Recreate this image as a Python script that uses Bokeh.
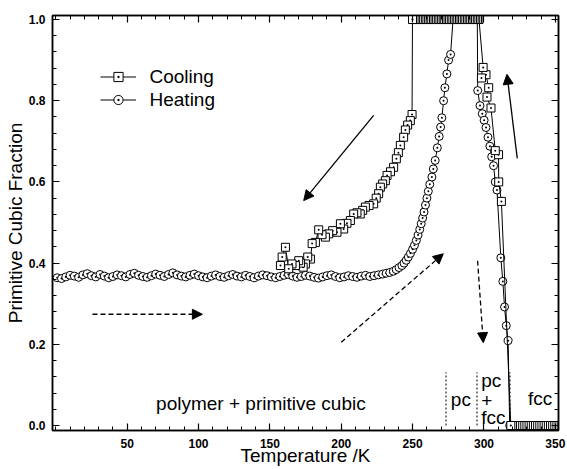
from bokeh.plotting import figure
from bokeh.models import (Range1d, LinearAxis, FixedTicker, PrintfTickFormatter, CustomJSTickFormatter,
                          Legend, LegendItem, Arrow, NormalHead, ColumnDataSource)
from bokeh.embed import file_html
from bokeh.resources import INLINE
from bokeh.core.properties import value

FONT = "Liberation Sans"

# ---------------- data ----------------
# Heating (circles)
heat_T = [1, 4, 7, 10, 13, 16, 19, 22, 25, 28,
          31, 34, 37, 40, 43, 46, 49, 52, 55, 58,
          61, 64, 67, 70, 73, 76, 79, 82, 85, 88,
          91, 94, 97, 100, 103, 106, 109, 112, 115, 118,
          121, 124, 127, 130, 133, 136, 139, 142, 145, 148,
          151, 154, 157, 160, 163, 166, 169, 172, 175, 178,
          181, 184, 187, 190, 193, 196, 199, 202, 205, 208,
          211, 214, 217, 220, 223, 226, 229,
          231.5, 234, 236.5, 238.5, 240.5, 242.5, 244, 245.5, 247, 248.5,
          250, 251.3, 252.6, 253.8, 255, 256, 257, 258, 259, 260,
          261, 262, 263.5, 264.5, 265.8, 267.3, 268.6, 269.6, 270.5, 271.7,
          272.6, 274.0, 275.2, 276.6,
          278.3, 280.3, 282.3, 284.3, 286.2, 288.0, 289.8, 291.5, 293.4, 295.3,
          295.6, 297.2, 298.8, 300.1, 301.4, 302.8, 304.1, 305.4, 306.7, 307.9,
          309.1, 311.8, 313.2, 314.4, 315.6, 316.9,
          318.0, 319.4, 320.8, 322.2, 323.6, 325.0, 326.4, 327.8, 329.2, 330.6,
          332.0, 333.4, 334.8, 336.2, 337.6, 339.0, 340.4, 341.8, 343.2, 344.6,
          346.0, 347.4, 348.8, 350.0]
heat_F = [0.364, 0.362, 0.366, 0.370, 0.368, 0.365, 0.371, 0.374, 0.369, 0.366,
          0.372, 0.368, 0.364, 0.367, 0.371, 0.369, 0.366, 0.372, 0.375, 0.370,
          0.367, 0.365, 0.369, 0.373, 0.370, 0.367, 0.372, 0.376, 0.371, 0.368,
          0.366, 0.370, 0.373, 0.369, 0.366, 0.364, 0.368, 0.371, 0.367, 0.365,
          0.369, 0.372, 0.368, 0.366, 0.370, 0.367, 0.364, 0.368, 0.371, 0.369,
          0.366, 0.364, 0.367, 0.370, 0.372, 0.368, 0.365, 0.367, 0.370, 0.368,
          0.365, 0.363, 0.366, 0.369, 0.371, 0.367, 0.364, 0.366, 0.369, 0.367,
          0.365, 0.368, 0.370, 0.367, 0.369, 0.371, 0.373,
          0.375, 0.377, 0.380, 0.384, 0.389, 0.394, 0.400, 0.407, 0.415, 0.424,
          0.434, 0.444, 0.456, 0.469, 0.483, 0.497, 0.511, 0.526, 0.543, 0.560,
          0.577, 0.594, 0.612, 0.632, 0.653, 0.684, 0.712, 0.735, 0.758, 0.800,
          0.832, 0.866, 0.900, 0.914,
          1.0, 1.0, 1.0, 1.0, 1.0, 1.0, 1.0, 1.0, 1.0, 1.0,
          0.825, 0.788, 0.768, 0.752, 0.734, 0.710, 0.688, 0.662, 0.640, 0.600,
          0.580, 0.413, 0.355, 0.292, 0.246, 0.209,
          0.0, 0.0, 0.0, 0.0, 0.0, 0.0, 0.0, 0.0, 0.0, 0.0,
          0.0, 0.0, 0.0, 0.0, 0.0, 0.0, 0.0, 0.0, 0.0, 0.0,
          0.0, 0.0, 0.0, 0.0]

# Cooling (squares)
cool_T = [350.0, 348.5, 347.0, 345.5, 344.0, 342.5, 341.0, 339.5, 338.0, 336.5,
          335.0, 333.5, 332.0, 330.5, 329.0, 327.5, 326.0, 324.5, 323.0, 321.5,
          320.0, 318.8,
          312.2, 310.3, 310.2, 307.9, 304.9, 302.1, 303.3, 301.4, 298.2, 299.4,
          296.5, 295.4, 294.2, 293.1, 292.0, 290.8, 289.7, 288.5, 287.4, 286.3,
          285.1, 284.0, 282.9, 281.7, 280.6, 279.4, 278.3, 277.2, 276.0, 274.9,
          273.8, 272.6, 271.5, 270.3, 269.2, 268.1, 266.9, 265.8, 264.7, 263.5,
          262.4, 261.2, 260.1, 259.0, 257.8, 256.7, 255.6, 254.4, 253.3, 252.1,
          251.0, 249.9,
          249.6, 248.4, 246.5, 244.9, 243.7, 241.4, 240.0, 238.6, 236.7, 234.5,
          232.1, 230.9, 229.0, 227.4, 226.2, 224.5, 222.7, 219.5, 216.9, 215.0,
          213.3, 211.0, 208.7, 206.4, 204.0, 201.7, 199.4, 197.0, 194.0, 191.2,
          188.9, 186.5, 184.2, 181.9, 179.6, 178.4, 176.5, 174.9, 173.3, 171.5,
          170.2, 167.9, 165.5, 163.2, 160.9, 158.6, 157.4]
cool_F = [0.0, 0.0, 0.0, 0.0, 0.0, 0.0, 0.0, 0.0, 0.0, 0.0,
          0.0, 0.0, 0.0, 0.0, 0.0, 0.0, 0.0, 0.0, 0.0, 0.0,
          0.0, 0.0,
          0.552, 0.600, 0.667, 0.677, 0.782, 0.809, 0.832, 0.864, 0.856, 0.882,
          1.0, 1.0, 1.0, 1.0, 1.0, 1.0, 1.0, 1.0, 1.0, 1.0,
          1.0, 1.0, 1.0, 1.0, 1.0, 1.0, 1.0, 1.0, 1.0, 1.0,
          1.0, 1.0, 1.0, 1.0, 1.0, 1.0, 1.0, 1.0, 1.0, 1.0,
          1.0, 1.0, 1.0, 1.0, 1.0, 1.0, 1.0, 1.0, 1.0, 1.0,
          1.0, 1.0,
          0.766, 0.751, 0.740, 0.728, 0.710, 0.690, 0.672, 0.657, 0.636, 0.625,
          0.616, 0.603, 0.595, 0.587, 0.571, 0.560, 0.546, 0.542, 0.538, 0.530,
          0.521, 0.524, 0.521, 0.505, 0.498, 0.484, 0.497, 0.476, 0.480, 0.472,
          0.464, 0.470, 0.482, 0.451, 0.448, 0.410, 0.415, 0.398, 0.390, 0.400,
          0.406, 0.394, 0.398, 0.386, 0.439, 0.415, 0.394]

# axis ticks
x_ticks = [50, 100, 150, 200, 250, 300, 350]
x_minor = [0, 10, 20, 30, 40, 60, 70, 80, 90, 110, 120, 130, 140, 160, 170, 180, 190,
           210, 220, 230, 240, 260, 270, 280, 290, 310, 320, 330, 340]
y_ticks = [0.0, 0.2, 0.4, 0.6, 0.8, 1.0]
y_minor = [0.04, 0.08, 0.12, 0.16, 0.24, 0.28, 0.32, 0.36, 0.44, 0.48, 0.52, 0.56,
           0.64, 0.68, 0.72, 0.76, 0.84, 0.88, 0.92, 0.96]

# phase region labels
region_text = ["polymer + primitive cubic", "pc", "pc", "+", "fcc", "fcc"]
region_x = [143.7, 283.8, 298.1, 298.1, 298.1, 339.4]
region_y = [0.055, 0.064, 0.111, 0.062, 0.020, 0.066]
region_align = ["center", "center", "left", "left", "left", "center"]

# phase boundaries (dotted)
bound_x = [273.4, 295.1, 318.2]
bound_top = [0.131, 0.131, 0.131]

# arrows: (x_start, y_start, x_end, y_end)
solid_arrows = [(222.7, 0.764, 173.7, 0.554), (323.3, 0.658, 316.1, 0.865)]
dashed_arrows = [(25.7, 0.274, 102.7, 0.274), (200.0, 0.205, 271.5, 0.423),
                 (295.5, 0.406, 299.5, 0.204)]

# ---------------- figure ----------------
p = figure(width=566, height=468, output_backend="svg", toolbar_location=None,
           x_range=Range1d(-2.3, 352.2), y_range=Range1d(-0.0123, 1.0099),
           min_border_left=52, min_border_right=8, min_border_top=15, min_border_bottom=38)
p.grid.visible = False
p.outline_line_color = "black"
p.outline_line_width = 1.5
p.background_fill_color = "white"
p.border_fill_color = "white"


def style_axis(ax, labels=True):
    ax.axis_line_width = 1.5
    ax.axis_line_color = "black"
    ax.major_tick_in = 7
    ax.major_tick_out = 0
    ax.minor_tick_in = 4
    ax.minor_tick_out = 0
    ax.major_tick_line_width = 1.2
    ax.minor_tick_line_width = 1
    ax.major_tick_line_color = "black"
    ax.minor_tick_line_color = "black"
    if labels:
        ax.major_label_text_font = FONT
        ax.major_label_text_font_size = "12px"
        ax.major_label_text_font_style = "bold"
        ax.major_label_text_color = "black"
        ax.axis_label_text_font = FONT
        ax.axis_label_text_font_size = "19px"
        ax.axis_label_text_font_style = "normal"
        ax.axis_label_text_color = "black"
    else:
        ax.formatter = CustomJSTickFormatter(code="return ''")
        ax.major_label_text_font_size = "0px"
        ax.major_label_standoff = 0


xax = p.xaxis[0]
xax.ticker = FixedTicker(ticks=x_ticks, minor_ticks=x_minor)
style_axis(xax)
xax.major_label_standoff = 8
xax.axis_label = "Temperature /K"
xax.axis_label_standoff = -6

yax = p.yaxis[0]
yax.ticker = FixedTicker(ticks=y_ticks, minor_ticks=y_minor)
yax.formatter = PrintfTickFormatter(format="%.1f")
style_axis(yax)
yax.major_label_standoff = 7
yax.axis_label = "Primitive Cubic Fraction"
yax.axis_label_standoff = 0

top_ax = LinearAxis(ticker=FixedTicker(ticks=x_ticks, minor_ticks=x_minor))
style_axis(top_ax, labels=False)
p.add_layout(top_ax, "above")
right_ax = LinearAxis(ticker=FixedTicker(ticks=y_ticks, minor_ticks=y_minor))
style_axis(right_ax, labels=False)
p.add_layout(right_ax, "right")

# phase boundaries
bsrc = ColumnDataSource(dict(x=bound_x, y0=[0.0] * len(bound_x), y1=bound_top))
p.segment(x0="x", y0="y0", x1="x", y1="y1", source=bsrc, line_color="black",
          line_width=1, line_dash="2 2")

# data
hsrc = ColumnDataSource(dict(T=heat_T, F=heat_F))
csrc = ColumnDataSource(dict(T=cool_T, F=cool_F))
h_line = p.line("T", "F", source=hsrc, line_color="black", line_width=1)
h_pts = p.scatter("T", "F", source=hsrc, marker="circle_dot", size=8,
                  fill_color="white", line_color="black", line_width=1)
c_line = p.line("T", "F", source=csrc, line_color="black", line_width=1)
c_pts = p.scatter("T", "F", source=csrc, marker="square_dot", size=8,
                  fill_color="white", line_color="black", line_width=1)

# legend-only key markers (larger than the data markers, not drawn in the plot)
nan = float("nan")
key_src = ColumnDataSource(dict(T=[nan], F=[nan]))
c_key = p.scatter("T", "F", source=key_src, marker="square_dot", size=12,
                  fill_color="white", line_color="black", line_width=1)
h_key = p.scatter("T", "F", source=key_src, marker="circle_dot", size=13,
                  fill_color="white", line_color="black", line_width=1)

# region labels
rsrc = ColumnDataSource(dict(x=region_x, y=region_y, t=region_text, a=region_align))
p.text("x", "y", text="t", source=rsrc, text_align="a", text_baseline="middle",
       text_font=value(FONT), text_font_size="19px", text_color="black")

# arrows
for (x0, y0, x1, y1) in solid_arrows:
    p.add_layout(Arrow(end=NormalHead(size=10, fill_color="black", line_color="black", line_width=1),
                       x_start=x0, y_start=y0, x_end=x1, y_end=y1,
                       line_color="black", line_width=1.3))
for (x0, y0, x1, y1) in dashed_arrows:
    p.add_layout(Arrow(end=NormalHead(size=10, fill_color="black", line_color="black", line_width=1),
                       x_start=x0, y_start=y0, x_end=x1, y_end=y1,
                       line_color="black", line_width=1.3, line_dash="5 3"))

# legend
legend = Legend(items=[LegendItem(label="Cooling", renderers=[c_line, c_key]),
                       LegendItem(label="Heating", renderers=[h_line, h_key])],
                location=(47.5, 318.8), orientation="vertical", padding=0, margin=0,
                spacing=0, glyph_width=36, glyph_height=23, label_height=23,
                label_standoff=14,
                border_line_color=None, background_fill_alpha=0,
                label_text_font=FONT, label_text_font_size="19px",
                label_text_color="black")
p.add_layout(legend)

open("out.html", "w").write(file_html(p, INLINE))
